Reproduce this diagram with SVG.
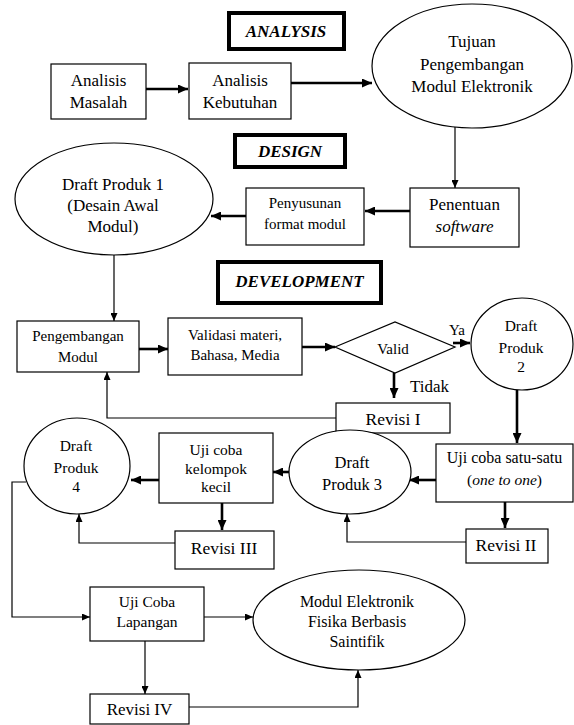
<svg xmlns="http://www.w3.org/2000/svg" width="574" height="725" viewBox="0 0 574 725">
<defs>
<marker id="big" markerUnits="userSpaceOnUse" markerWidth="10" markerHeight="9" refX="10" refY="4.5" orient="auto"><path d="M0,0 L10,4.5 L0,9 Z" fill="#000"/></marker>
<marker id="small" markerUnits="userSpaceOnUse" markerWidth="8" markerHeight="7" refX="8" refY="3.5" orient="auto"><path d="M0,0 L8,3.5 L0,7 Z" fill="#000"/></marker>
</defs>
<style>
.bg{fill:#fff}
.box{fill:#fff;stroke:#000;stroke-width:1.2}
.sec{fill:#fff;stroke:#000;stroke-width:4}
.t{font-family:"Liberation Serif","Times New Roman",serif;fill:#000;text-anchor:middle}
.st{font-family:"Liberation Serif","Times New Roman",serif;font-weight:bold;font-style:italic;font-size:17px;fill:#000;text-anchor:middle}
.thick{fill:none;stroke:#000;stroke-width:2.6;marker-end:url(#big)}
.thin{fill:none;stroke:#000;stroke-width:1.2;marker-end:url(#small)}
</style>
<rect class="bg" x="0" y="0" width="574" height="725"/>

<g id="connectors">
<path class="thick" d="M146,89 H188"/>
<path class="thick" d="M291,83 H372"/>
<path class="thin" d="M455,127 V188"/>
<path class="thick" d="M410,211 H365"/>
<path class="thick" d="M246,216 H211"/>
<path class="thin" d="M114,255 V321"/>
<path class="thick" d="M139,349 H168"/>
<path class="thick" d="M302,347 H335"/>
<path class="thick" d="M453,343 H470"/>
<path class="thick" d="M394,373 V398"/>
<path class="thin" d="M336,418 H107 V372"/>
<path class="thick" d="M517,390 V443"/>
<path class="thick" d="M436,480 H409"/>
<path class="thick" d="M289,472 H273"/>
<path class="thick" d="M159,480 H131"/>
<path class="thick" d="M222,503 V530"/>
<path class="thick" d="M505,502 V528"/>
<path class="thin" d="M175,543 H79 V514"/>
<path class="thin" d="M466,542 H347 V514"/>
<path class="thin" d="M26,482 H12 V617 H90"/>
<path class="thin" d="M204,617 H253"/>
<path class="thin" d="M145,641 V694"/>
<path class="thin" d="M189,707 H358 V670"/>
</g>

<g id="analysis">
<rect class="sec" x="229" y="13" width="115" height="36"/>
<text class="st" x="286" y="37">ANALYSIS</text>
</g>
<g id="design">
<rect class="sec" x="235" y="135" width="110" height="32"/>
<text class="st" x="290" y="157">DESIGN</text>
</g>
<g id="development">
<rect class="sec" x="218" y="262" width="163" height="41"/>
<text class="st" x="299.5" y="287">DEVELOPMENT</text>
</g>

<g id="analisis-masalah">
<rect class="box" x="51" y="64" width="95" height="55"/>
<text class="t" font-size="17" x="98.5" y="86">Analisis</text>
<text class="t" font-size="17" x="98.5" y="108">Masalah</text>
</g>
<g id="analisis-kebutuhan">
<rect class="box" x="189" y="63" width="102" height="56"/>
<text class="t" font-size="17" x="240" y="86">Analisis</text>
<text class="t" font-size="17" x="240" y="108">Kebutuhan</text>
</g>
<g id="tujuan">
<ellipse class="box" cx="472" cy="66" rx="100" ry="62"/>
<text class="t" font-size="17" x="472" y="47">Tujuan</text>
<text class="t" font-size="17" x="472" y="70">Pengembangan</text>
<text class="t" font-size="17" x="472" y="92">Modul Elektronik</text>
</g>
<g id="penentuan">
<rect class="box" x="410" y="188" width="109" height="59"/>
<text class="t" font-size="17" x="464.5" y="210">Penentuan</text>
<text class="t" font-size="17" x="464.5" y="232" font-style="italic">software</text>
</g>
<g id="penyusunan">
<rect class="box" x="246" y="188" width="118" height="57"/>
<text class="t" font-size="15" x="305" y="208">Penyusunan</text>
<text class="t" font-size="15" x="305" y="229">format  modul</text>
</g>
<g id="draft-produk-1">
<ellipse class="box" cx="114" cy="199" rx="99" ry="56"/>
<text class="t" font-size="17" x="113" y="190">Draft Produk 1</text>
<text class="t" font-size="17" x="113" y="211">(Desain Awal</text>
<text class="t" font-size="17" x="113" y="232">Modul)</text>
</g>
<g id="pengembangan-modul">
<rect class="box" x="17" y="321" width="122" height="51"/>
<text class="t" font-size="15" x="78" y="341">Pengembangan</text>
<text class="t" font-size="15" x="78" y="362">Modul</text>
</g>
<g id="validasi">
<rect class="box" x="168" y="318" width="134" height="57"/>
<text class="t" font-size="15" x="235" y="340">Validasi  materi,</text>
<text class="t" font-size="15" x="235" y="360">Bahasa,  Media</text>
</g>
<g id="valid">
<polygon class="box" points="335,347 395,322 455,347 395,373"/>
<text class="t" font-size="15" x="393" y="354">Valid</text>
<text class="t" font-size="15" x="457" y="335">Ya</text>
<text class="t" font-size="17" x="429.5" y="392">Tidak</text>
</g>
<g id="draft-produk-2">
<ellipse class="box" cx="522" cy="344" rx="51" ry="46"/>
<text class="t" font-size="15.5" x="521" y="331">Draft</text>
<text class="t" font-size="15.5" x="521" y="353">Produk</text>
<text class="t" font-size="15.5" x="521" y="372">2</text>
</g>
<g id="revisi-1">
<rect class="box" x="336" y="403" width="114" height="30"/>
<text class="t" font-size="17.5" x="393" y="425">Revisi I</text>
</g>
<g id="uji-coba-satu">
<rect class="box" x="436" y="444" width="137" height="58"/>
<text class="t" font-size="16" x="504.5" y="463">Uji coba satu-satu</text>
<text class="t" font-size="15.5" x="504.5" y="485">(<tspan font-style="italic">one  to one</tspan>)</text>
</g>
<g id="draft-produk-3">
<ellipse class="box" cx="350" cy="472" rx="61" ry="42"/>
<text class="t" font-size="16.5" x="352" y="468">Draft</text>
<text class="t" font-size="16.5" x="352" y="490">Produk 3</text>
</g>
<g id="uji-coba-kelompok">
<rect class="box" x="159" y="433" width="114" height="70"/>
<text class="t" font-size="15.5" x="216" y="455">Uji coba</text>
<text class="t" font-size="15.5" x="216" y="474">kelompok</text>
<text class="t" font-size="15.5" x="216" y="492">kecil</text>
</g>
<g id="draft-produk-4">
<ellipse class="box" cx="77" cy="466" rx="53" ry="48"/>
<text class="t" font-size="15.5" x="76" y="451">Draft</text>
<text class="t" font-size="15.5" x="76" y="473">Produk</text>
<text class="t" font-size="15.5" x="76" y="492">4</text>
</g>
<g id="revisi-3">
<rect class="box" x="175" y="531" width="99" height="38"/>
<text class="t" font-size="17.5" x="224" y="554">Revisi III</text>
</g>
<g id="revisi-2">
<rect class="box" x="466" y="529" width="82" height="34"/>
<text class="t" font-size="17.5" x="506" y="551">Revisi II</text>
</g>
<g id="uji-coba-lapangan">
<rect class="box" x="90" y="587" width="114" height="54"/>
<text class="t" font-size="15.5" x="147" y="607">Uji Coba</text>
<text class="t" font-size="15.5" x="147" y="627">Lapangan</text>
</g>
<g id="modul-elektronik">
<ellipse class="box" cx="359" cy="620" rx="106" ry="50"/>
<text class="t" font-size="16" x="357" y="607">Modul Elektronik</text>
<text class="t" font-size="16" x="357" y="627">Fisika Berbasis</text>
<text class="t" font-size="16" x="357" y="647">Saintifik</text>
</g>
<g id="revisi-4">
<rect class="box" x="90" y="694" width="99" height="30"/>
<text class="t" font-size="17" x="139.5" y="715">Revisi IV</text>
</g>
</svg>
